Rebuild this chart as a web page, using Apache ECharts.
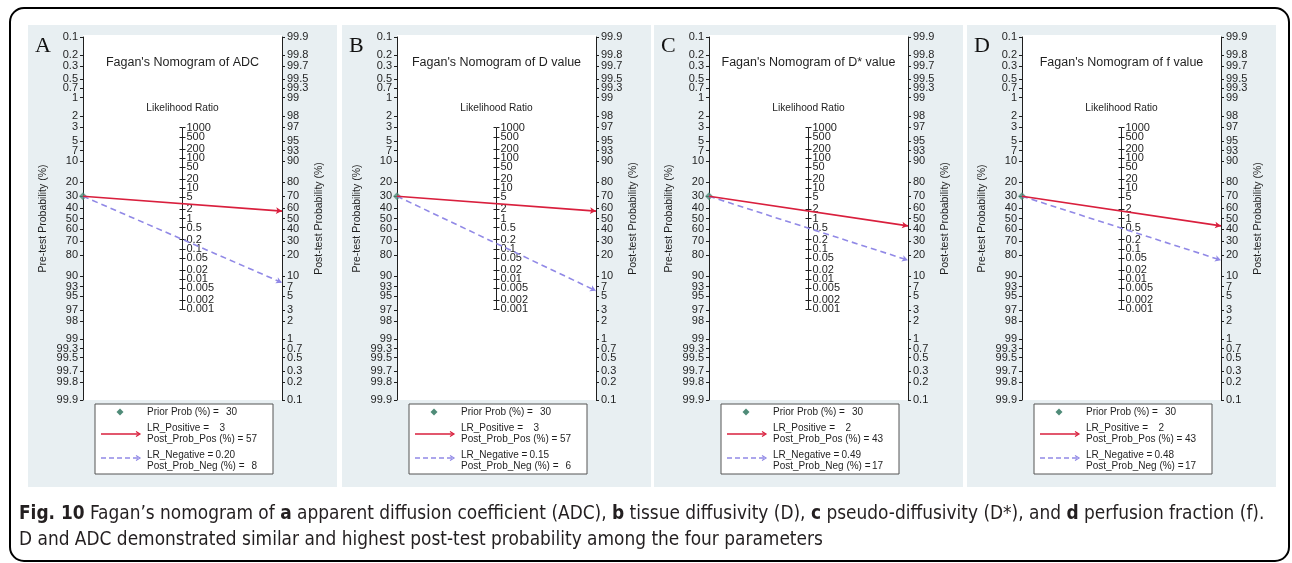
<!DOCTYPE html>
<html>
<head>
<meta charset="utf-8">
<script src="https://cdn.jsdelivr.net/npm/echarts@6/dist/echarts.min.js"></script>
<style>
  html, body { margin: 0; padding: 0; background: #fff; }
  #chart { width: 1292px; height: 563px; }
</style>
</head>
<body>
<div id="chart"></div>
<script>
// tick labels of the nomogram scales
var PROB_TICKS = [0.1, 0.2, 0.3, 0.5, 0.7, 1, 2, 3, 5, 7, 10, 20, 30, 40, 50, 60, 70, 80, 90, 93, 95, 97, 98, 99, 99.3, 99.5, 99.7, 99.8, 99.9];
var LR_TICKS = ["1000", "500", "200", "100", "50", "20", "10", "5", "2", "1", "0.5", "0.2", "0.1", "0.05", "0.02", "0.01", "0.005", "0.002", "0.001"];

// one entry per panel
var letters = ["A", "B", "C", "D"];
var titles = ["Fagan's Nomogram of ADC", "Fagan's Nomogram of D value", "Fagan's Nomogram of D* value", "Fagan's Nomogram of f value"];
var priorProb = [30, 30, 30, 30];
var lrPositive = ["3", "3", "2", "2"];
var postProbPos = [57, 57, 43, 43];
var lrNegative = ["0.20", "0.15", "0.49", "0.48"];
var postProbNeg = [8, 6, 17, 17];

var panelX = [28, 342, 654, 967];
var FONT = "'Liberation Sans', Arial, sans-serif";
var RED = "#d91f3d";
var LAV = "#9189e6";
var DOT = "#4f8b78";
var INK = "#1f1f1f";
var GW = 199, GT = 37, GH = 363;

function logit(p) {
  var q = p / 100;
  return Math.log(q / (1 - q));
}
var L = logit(99.9) + 1e-6;
var probVals = PROB_TICKS.map(logit);
var lrVals = LR_TICKS.map(function (s) { return Math.log(parseFloat(s)); });
// blank labels at both ends so ECharts does not drop 1000 / 0.001 as overlapping min/max
var lrLabelVals = [-2 * L].concat(lrVals, [2 * L]);

function nearestLabel(vals, labels, v) {
  var best = 0;
  for (var k = 1; k < vals.length; k++) {
    if (Math.abs(vals[k] - v) < Math.abs(vals[best] - v)) best = k;
  }
  return String(labels[best]);
}

// line from prior (left axis) to posterior (right axis), arrow at the end
function fagan(pre, post, color, dash) {
  var a = logit(pre), b = -logit(post);
  var dy = (b - a) * GH / (2 * L);
  var rot = -90 - Math.atan2(dy, GW) * 180 / Math.PI;
  return {
    data: [
      { value: [0, a], symbol: "none" },
      { value: [1, b], symbol: "arrow", symbolSize: [5, 6], symbolRotate: rot, itemStyle: { color: color } }
    ],
    lineStyle: { color: color, width: 1.6, type: dash ? [6, 4] : "solid" }
  };
}

var chart = echarts.init(document.getElementById("chart"));

var grids = [], xAxes = [], yAxes = [], series = [], graphics = [];

graphics.push({
  type: "rect", z: -10,
  shape: { x: 10, y: 8, width: 1279, height: 553, r: 14 },
  style: { fill: "none", stroke: "#000", lineWidth: 2 }
});

function txt(x, y, text, opts) {
  opts = opts || {};
  return {
    type: "text", z: 50,
    style: {
      x: x, y: y, text: text,
      font: opts.font || ("10px " + FONT),
      fill: opts.fill || INK,
      textAlign: opts.align || "left", align: opts.align || "left",
      textVerticalAlign: "middle", verticalAlign: "middle"
    }
  };
}

letters.forEach(function (letter, i) {
  var x0 = panelX[i];
  var gl = x0 + 55;
  var cx = gl + GW / 2;

  graphics.push({ type: "rect", z: -10, shape: { x: x0, y: 25, width: 309, height: 462 }, style: { fill: "#e8eff2" } });
  graphics.push({ type: "rect", z: -9, shape: { x: gl, y: 35, width: GW, height: GH + 2 }, style: { fill: "#fff" } });
  graphics.push(txt(x0 + 7, 46, letter, { font: "22px 'Liberation Serif', 'Times New Roman', serif", fill: "#111" }));
  graphics.push(txt(cx, 63, titles[i], { font: "12.5px " + FONT, align: "center" }));
  graphics.push(txt(cx, 108, "Likelihood Ratio", { font: "10.2px " + FONT, align: "center" }));

  grids.push({ left: gl, top: GT, width: GW, height: GH });
  xAxes.push({ gridIndex: i, type: "value", min: 0, max: 1, show: false });

  var lblStyle = { fontSize: 11, lineHeight: 8, color: INK, fontFamily: FONT };
  var probFmt = function (v) { return nearestLabel(probVals, PROB_TICKS, v); };
  var lrFmt = function (v) { return Math.abs(v) > 10 ? "" : nearestLabel(lrVals, LR_TICKS, v); };

  yAxes.push({
    gridIndex: i, type: "value", position: "left", inverse: true, min: -L, max: L,
    name: "Pre-test Probability (%)", nameLocation: "middle", nameGap: 34, nameRotate: 90,
    nameTextStyle: { fontSize: 10.5, color: INK, fontFamily: FONT },
    axisLine: { show: true, onZero: false, lineStyle: { color: INK, width: 1 } },
    axisTick: { show: true, length: 3, customValues: probVals, lineStyle: { color: INK } },
    axisLabel: Object.assign({ customValues: probVals, formatter: probFmt, margin: 5, showMinLabel: true, showMaxLabel: true }, lblStyle),
    splitLine: { show: false }
  });
  yAxes.push({
    gridIndex: i, type: "value", position: "right", min: -L, max: L,
    name: "Post-test Probability (%)", nameLocation: "middle", nameGap: 32, nameRotate: 90,
    nameTextStyle: { fontSize: 10.5, color: INK, fontFamily: FONT },
    axisLine: { show: true, onZero: false, lineStyle: { color: INK, width: 1 } },
    axisTick: { show: true, length: 3, customValues: probVals, lineStyle: { color: INK } },
    axisLabel: Object.assign({ customValues: probVals, formatter: probFmt, margin: 5, showMinLabel: true, showMaxLabel: true }, lblStyle),
    splitLine: { show: false }
  });
  yAxes.push({
    gridIndex: i, type: "value", position: "left", offset: -GW / 2, min: -2 * L, max: 2 * L,
    axisLine: { show: false, onZero: false },
    axisTick: { show: true, inside: true, length: 3, customValues: lrVals, lineStyle: { color: INK } },
    axisLabel: Object.assign({ inside: true, customValues: lrLabelVals, formatter: lrFmt, margin: 4 }, lblStyle),
    splitLine: { show: false }
  });
  yAxes.push({
    gridIndex: i, type: "value", position: "right", offset: -GW / 2, min: -2 * L, max: 2 * L,
    axisLine: { show: false, onZero: false },
    axisTick: { show: true, inside: true, length: 3, customValues: lrVals, lineStyle: { color: INK } },
    axisLabel: { show: false },
    splitLine: { show: false }
  });

  series.push({
    type: "line", xAxisIndex: i, yAxisIndex: i * 4 + 2, symbol: "none", silent: true,
    data: [[0.5, lrVals[lrVals.length - 1]], [0.5, lrVals[0]]],
    lineStyle: { color: INK, width: 1 }
  });
  var neg = fagan(priorProb[i], postProbNeg[i], LAV, true);
  series.push(Object.assign({ type: "line", xAxisIndex: i, yAxisIndex: i * 4, showSymbol: true, silent: true }, neg));
  var pos = fagan(priorProb[i], postProbPos[i], RED, false);
  series.push(Object.assign({ type: "line", xAxisIndex: i, yAxisIndex: i * 4, showSymbol: true, silent: true }, pos));
  series.push({
    type: "scatter", xAxisIndex: i, yAxisIndex: i * 4, symbol: "diamond", symbolSize: 8, silent: true,
    data: [[0, logit(priorProb[i])]],
    itemStyle: { color: DOT }
  });

  // legend box
  var bx = x0 + 67, bw = 178;
  graphics.push({ type: "rect", z: 40, shape: { x: bx, y: 404, width: bw, height: 70 }, style: { fill: "#fff", stroke: "#555", lineWidth: 1 } });
  graphics.push({ type: "polygon", z: 50, shape: { points: [[x0 + 92, 408.5], [x0 + 95.5, 412], [x0 + 92, 415.5], [x0 + 88.5, 412]] }, style: { fill: DOT } });
  graphics.push({ type: "line", z: 50, shape: { x1: x0 + 73, y1: 434, x2: x0 + 111, y2: 434 }, style: { stroke: RED, lineWidth: 1.5 } });
  graphics.push({ type: "polyline", z: 50, shape: { points: [[x0 + 108, 431.5], [x0 + 112, 434], [x0 + 108, 436.5]] }, style: { stroke: RED, lineWidth: 1.2, fill: "none" } });
  graphics.push({ type: "line", z: 50, shape: { x1: x0 + 73, y1: 458, x2: x0 + 111, y2: 458 }, style: { stroke: LAV, lineWidth: 1.5, lineDash: [5, 3] } });
  graphics.push({ type: "polyline", z: 50, shape: { points: [[x0 + 108, 455.5], [x0 + 112, 458], [x0 + 108, 460.5]] }, style: { stroke: LAV, lineWidth: 1.2, fill: "none" } });

  var tx = x0 + 119;
  graphics.push(txt(tx, 412, "Prior Prob (%) ="));
  graphics.push(txt(x0 + 209, 412, String(priorProb[i]), { align: "right" }));
  graphics.push(txt(tx, 428, "LR_Positive ="));
  graphics.push(txt(x0 + 197, 428, lrPositive[i], { align: "right" }));
  graphics.push(txt(tx, 439, "Post_Prob_Pos (%) ="));
  graphics.push(txt(x0 + 229, 439, String(postProbPos[i]), { align: "right" }));
  graphics.push(txt(tx, 455, "LR_Negative ="));
  graphics.push(txt(x0 + 207, 455, lrNegative[i], { align: "right" }));
  graphics.push(txt(tx, 466, "Post_Prob_Neg (%) ="));
  graphics.push(txt(x0 + 229, 466, String(postProbNeg[i]), { align: "right" }));
});

// caption
var CAP_FAMILY = "'Liberation Sans Narrow', 'DejaVu Sans Condensed', sans-serif";
var capRich = { b: { fontWeight: "bold", fontSize: 18.9, fontFamily: CAP_FAMILY, fill: "#231f20" } };
graphics.push({
  type: "text", z: 50,
  style: {
    x: 19, y: 514, fontSize: 18.9, fontFamily: CAP_FAMILY, fill: "#231f20", verticalAlign: "middle", textVerticalAlign: "middle",
    text: "{b|Fig. 10} Fagan\u2019s nomogram of {b|a} apparent diffusion coefficient (ADC), {b|b} tissue diffusivity (D), {b|c} pseudo-diffusivity (D*), and {b|d} perfusion fraction (f).",
    rich: capRich
  }
});
graphics.push({
  type: "text", z: 50,
  style: {
    x: 19, y: 540, fontSize: 18.9, fontFamily: CAP_FAMILY, fill: "#231f20", verticalAlign: "middle", textVerticalAlign: "middle",
    text: "D and ADC demonstrated similar and highest post-test probability among the four parameters"
  }
});

chart.setOption({
  animation: false,
  backgroundColor: "#fff",
  grid: grids,
  xAxis: xAxes,
  yAxis: yAxes,
  series: series,
  graphic: { elements: graphics }
});
</script>
</body>
</html>
